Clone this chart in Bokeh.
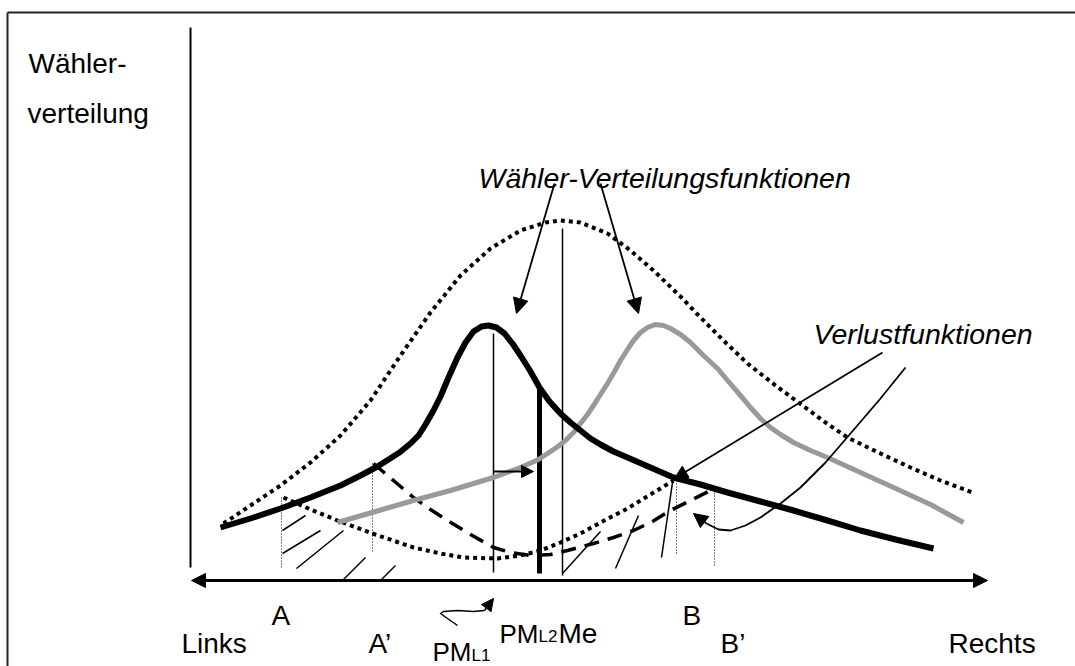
from bokeh.plotting import figure
from bokeh.models import Range1d, Arrow, NormalHead
from bokeh.core.properties import value
from bokeh.embed import file_html
from bokeh.resources import INLINE

# ---------------- data (picture-pixel coordinates) -------------
# voter distribution of party L (black) and party R (grey)
dist_L_x = [220, 250, 280, 310, 340, 362, 377, 388, 399, 410, 418, 425, 433, 440, 448, 457, 465, 473, 481,
            488, 496, 504, 512, 520, 530, 539, 549, 560, 570, 580, 590, 600, 613, 627, 650, 673, 700, 727,
            760, 793, 827, 860, 895, 933]
dist_L_y = [527, 518, 508, 497, 485, 474, 466, 459, 452, 443, 435, 424, 410, 396, 377, 357, 342, 331, 326,
            325, 327, 333, 343, 355, 371, 387, 401, 413, 422, 430, 438, 444, 451, 457, 467, 477, 484, 492,
            501, 510, 520, 530, 539, 548]
dist_R_x = [337, 375, 413, 450, 493, 520, 538, 547, 556, 565, 573, 580, 587, 593, 600, 607, 614, 620, 627,
            633, 640, 647, 655, 663, 670, 680, 690, 703, 717, 728, 740, 750, 760, 770, 780, 793, 810, 827,
            860, 893, 930, 963]
dist_R_y = [522, 511, 500, 490, 477, 467, 459, 453, 447, 440, 432, 423, 414, 405, 394, 383, 371, 360, 349,
            340, 332, 327, 324, 325, 328, 334, 342, 355, 368, 381, 395, 407, 418, 427, 434, 442, 450, 457,
            472, 487, 504, 522]
# overall voter distribution (dotted)
dist_all_x = [223, 250, 280, 310, 340, 370, 400, 430, 460, 490, 520, 545, 560, 580, 607, 630, 653, 680, 700,
              725, 747, 775, 798, 825, 847, 880, 910, 940, 972]
dist_all_y = [523, 505, 485, 462, 435, 400, 355, 312, 275, 248, 230, 222, 220, 222, 233, 250, 270, 296, 317,
              342, 363, 385, 402, 422, 437, 453, 467, 480, 492]
# loss functions
loss_dot_x = [283, 310, 337, 372, 413, 440, 463, 497, 520, 540, 560, 580, 600, 627, 650, 673]
loss_dot_y = [497, 509, 520, 533, 547, 553, 557, 558, 555, 550, 542, 533, 522, 508, 494, 480]
loss_dash_x = [373, 393, 413, 430, 447, 470, 493, 510, 530, 550, 567, 593, 613, 633, 652, 670, 690, 708]
loss_dash_y = [463, 480, 497, 509, 520, 534, 547, 552, 555, 554, 550, 543, 537, 530, 521, 510, 500, 491]

# hatch strokes
hatch_x0 = [282, 282, 296, 342, 380, 562, 615, 661]
hatch_y0 = [530, 553, 568, 580, 580, 573, 568, 557]
hatch_x1 = [305, 320, 343, 365, 395, 600, 638, 672]
hatch_y1 = [515, 530, 530, 557, 565, 531, 515, 482]

# dotted drop lines at A, A', B, B'
drop_x = [281, 372, 676, 714]
drop_top = [497, 463, 480, 492]
drop_bottom = [568, 553, 555, 567]

# positions PM_L1, Me (thin) and PM_L2 (thick)
thin_x = [493, 562]
thin_top = [333, 228]
thin_bottom = [572, 575]
thick_x = [539]
thick_top = [388]
thick_bottom = [573]

# annotation arrows (straight)
arr_x0 = [554, 600, 882, 493]
arr_y0 = [183, 183, 352, 471]
arr_x1 = [516, 638, 674, 533]
arr_y1 = [313, 313, 478, 471]
arr_size = [15, 15, 13, 12]

# curved arrow from "Verlustfunktionen"
curve_x = [905, 880, 850, 825, 800, 780, 760, 745, 730, 718, 706]
curve_y = [367, 398, 433, 462, 487, 503, 517, 525, 530, 529, 523]
curve_tip = (693, 513)
# squiggle arrow PM_L1 -> PM_L2
sq_x = [457, 447, 440, 443, 457, 473, 484]
sq_y = [625, 618, 613, 611, 610, 611, 610]
sq_tip = (493, 598)

# axes
x_axis_y = 580
x_axis_left, x_axis_right = 191, 987
y_axis_x = 190
y_axis_top, y_axis_bottom = 27, 567

# labels: (text, x, baseline y, size px, style)
labels = [
    ("Wähler-", 28, 63, 28, "normal"),
    ("verteilung", 27, 113, 28, "normal"),
    ("Wähler-Verteilungsfunktionen", 478, 177, 28.5, "italic"),
    ("Verlustfunktionen", 813, 333, 28.5, "italic"),
    ("Links", 181, 643, 28, "normal"),
    ("A", 271, 615, 28, "normal"),
    ("A’", 368, 643, 28, "normal"),
    ("PM", 432, 651, 26, "normal"),
    ("L1", 471, 655, 17, "normal"),
    ("PM", 499, 633, 26, "normal"),
    ("L2", 538, 636, 17, "normal"),
    ("Me", 558, 633, 28, "normal"),
    ("B", 682, 615, 28, "normal"),
    ("B’", 720, 643, 28, "normal"),
    ("Rechts", 948, 643, 28, "normal"),
]

# ---------------- figure --------------------------------------------------------
W, H = 1075, 666
p = figure(width=W, height=H, output_backend="svg", toolbar_location=None,
           x_range=Range1d(0, W), y_range=Range1d(H, 0),
           x_axis_type=None, y_axis_type=None, min_border=0)
p.outline_line_color = None
p.background_fill_color = "white"
p.border_fill_color = "white"

# frame border (top and left)
p.line([7, W], [12, 12], line_color="#222222", line_width=2)
p.line([7, 7], [12, H], line_color="#222222", line_width=2)

# y axis
p.line([y_axis_x, y_axis_x], [y_axis_top, y_axis_bottom], line_color="black", line_width=2)
# x axis double arrow
p.add_layout(Arrow(start=NormalHead(size=14, fill_color="black", line_color="black"),
                   end=NormalHead(size=14, fill_color="black", line_color="black"),
                   x_start=x_axis_left, y_start=x_axis_y, x_end=x_axis_right, y_end=x_axis_y,
                   line_width=3, line_color="black"))

# hatch strokes
p.segment(hatch_x0, hatch_y0, hatch_x1, hatch_y1, line_color="black", line_width=1.5)
# dotted drop lines
p.segment(drop_x, drop_top, drop_x, drop_bottom, line_color="black", line_width=1, line_dash="1 2")
# position lines
p.segment(thin_x, thin_top, thin_x, thin_bottom, line_color="black", line_width=1.5)
p.segment(thick_x, thick_top, thick_x, thick_bottom, line_color="black", line_width=5)

# curves
p.line(dist_all_x, dist_all_y, line_color="black", line_width=4, line_dash="4 4")
p.line(loss_dot_x, loss_dot_y, line_color="black", line_width=4, line_dash="4 4")
p.line(loss_dash_x, loss_dash_y, line_color="black", line_width=3.5, line_dash="15 9")
p.line(dist_R_x, dist_R_y, line_color="#999999", line_width=5, line_join="round")
p.line(dist_L_x, dist_L_y, line_color="black", line_width=6, line_join="round")

# straight annotation arrows
for x0, y0, x1, y1, s in zip(arr_x0, arr_y0, arr_x1, arr_y1, arr_size):
    p.add_layout(Arrow(end=NormalHead(size=s, fill_color="black", line_color="black"),
                       x_start=x0, y_start=y0, x_end=x1, y_end=y1,
                       line_width=1.8, line_color="black"))

# curved arrow
p.line(curve_x, curve_y, line_color="black", line_width=1.8, line_join="round")
p.add_layout(Arrow(end=NormalHead(size=14, fill_color="black", line_color="black"),
                   x_start=curve_x[-1], y_start=curve_y[-1], x_end=curve_tip[0], y_end=curve_tip[1],
                   line_width=1.8, line_color="black"))
# squiggle arrow
p.line(sq_x, sq_y, line_color="black", line_width=1.5, line_join="round")
p.add_layout(Arrow(end=NormalHead(size=12, fill_color="black", line_color="black"),
                   x_start=sq_x[-1], y_start=sq_y[-1], x_end=sq_tip[0], y_end=sq_tip[1],
                   line_width=1.5, line_color="black"))

# labels
for txt, x, y, size, style in labels:
    p.text(x=[x], y=[y], text=[txt], text_font=value("Liberation Sans"),
           text_font_size=value(f"{size}px"), text_font_style=style,
           text_align="left", text_baseline="alphabetic", text_color="black")

open("out.html", "w").write(file_html(p, INLINE))
